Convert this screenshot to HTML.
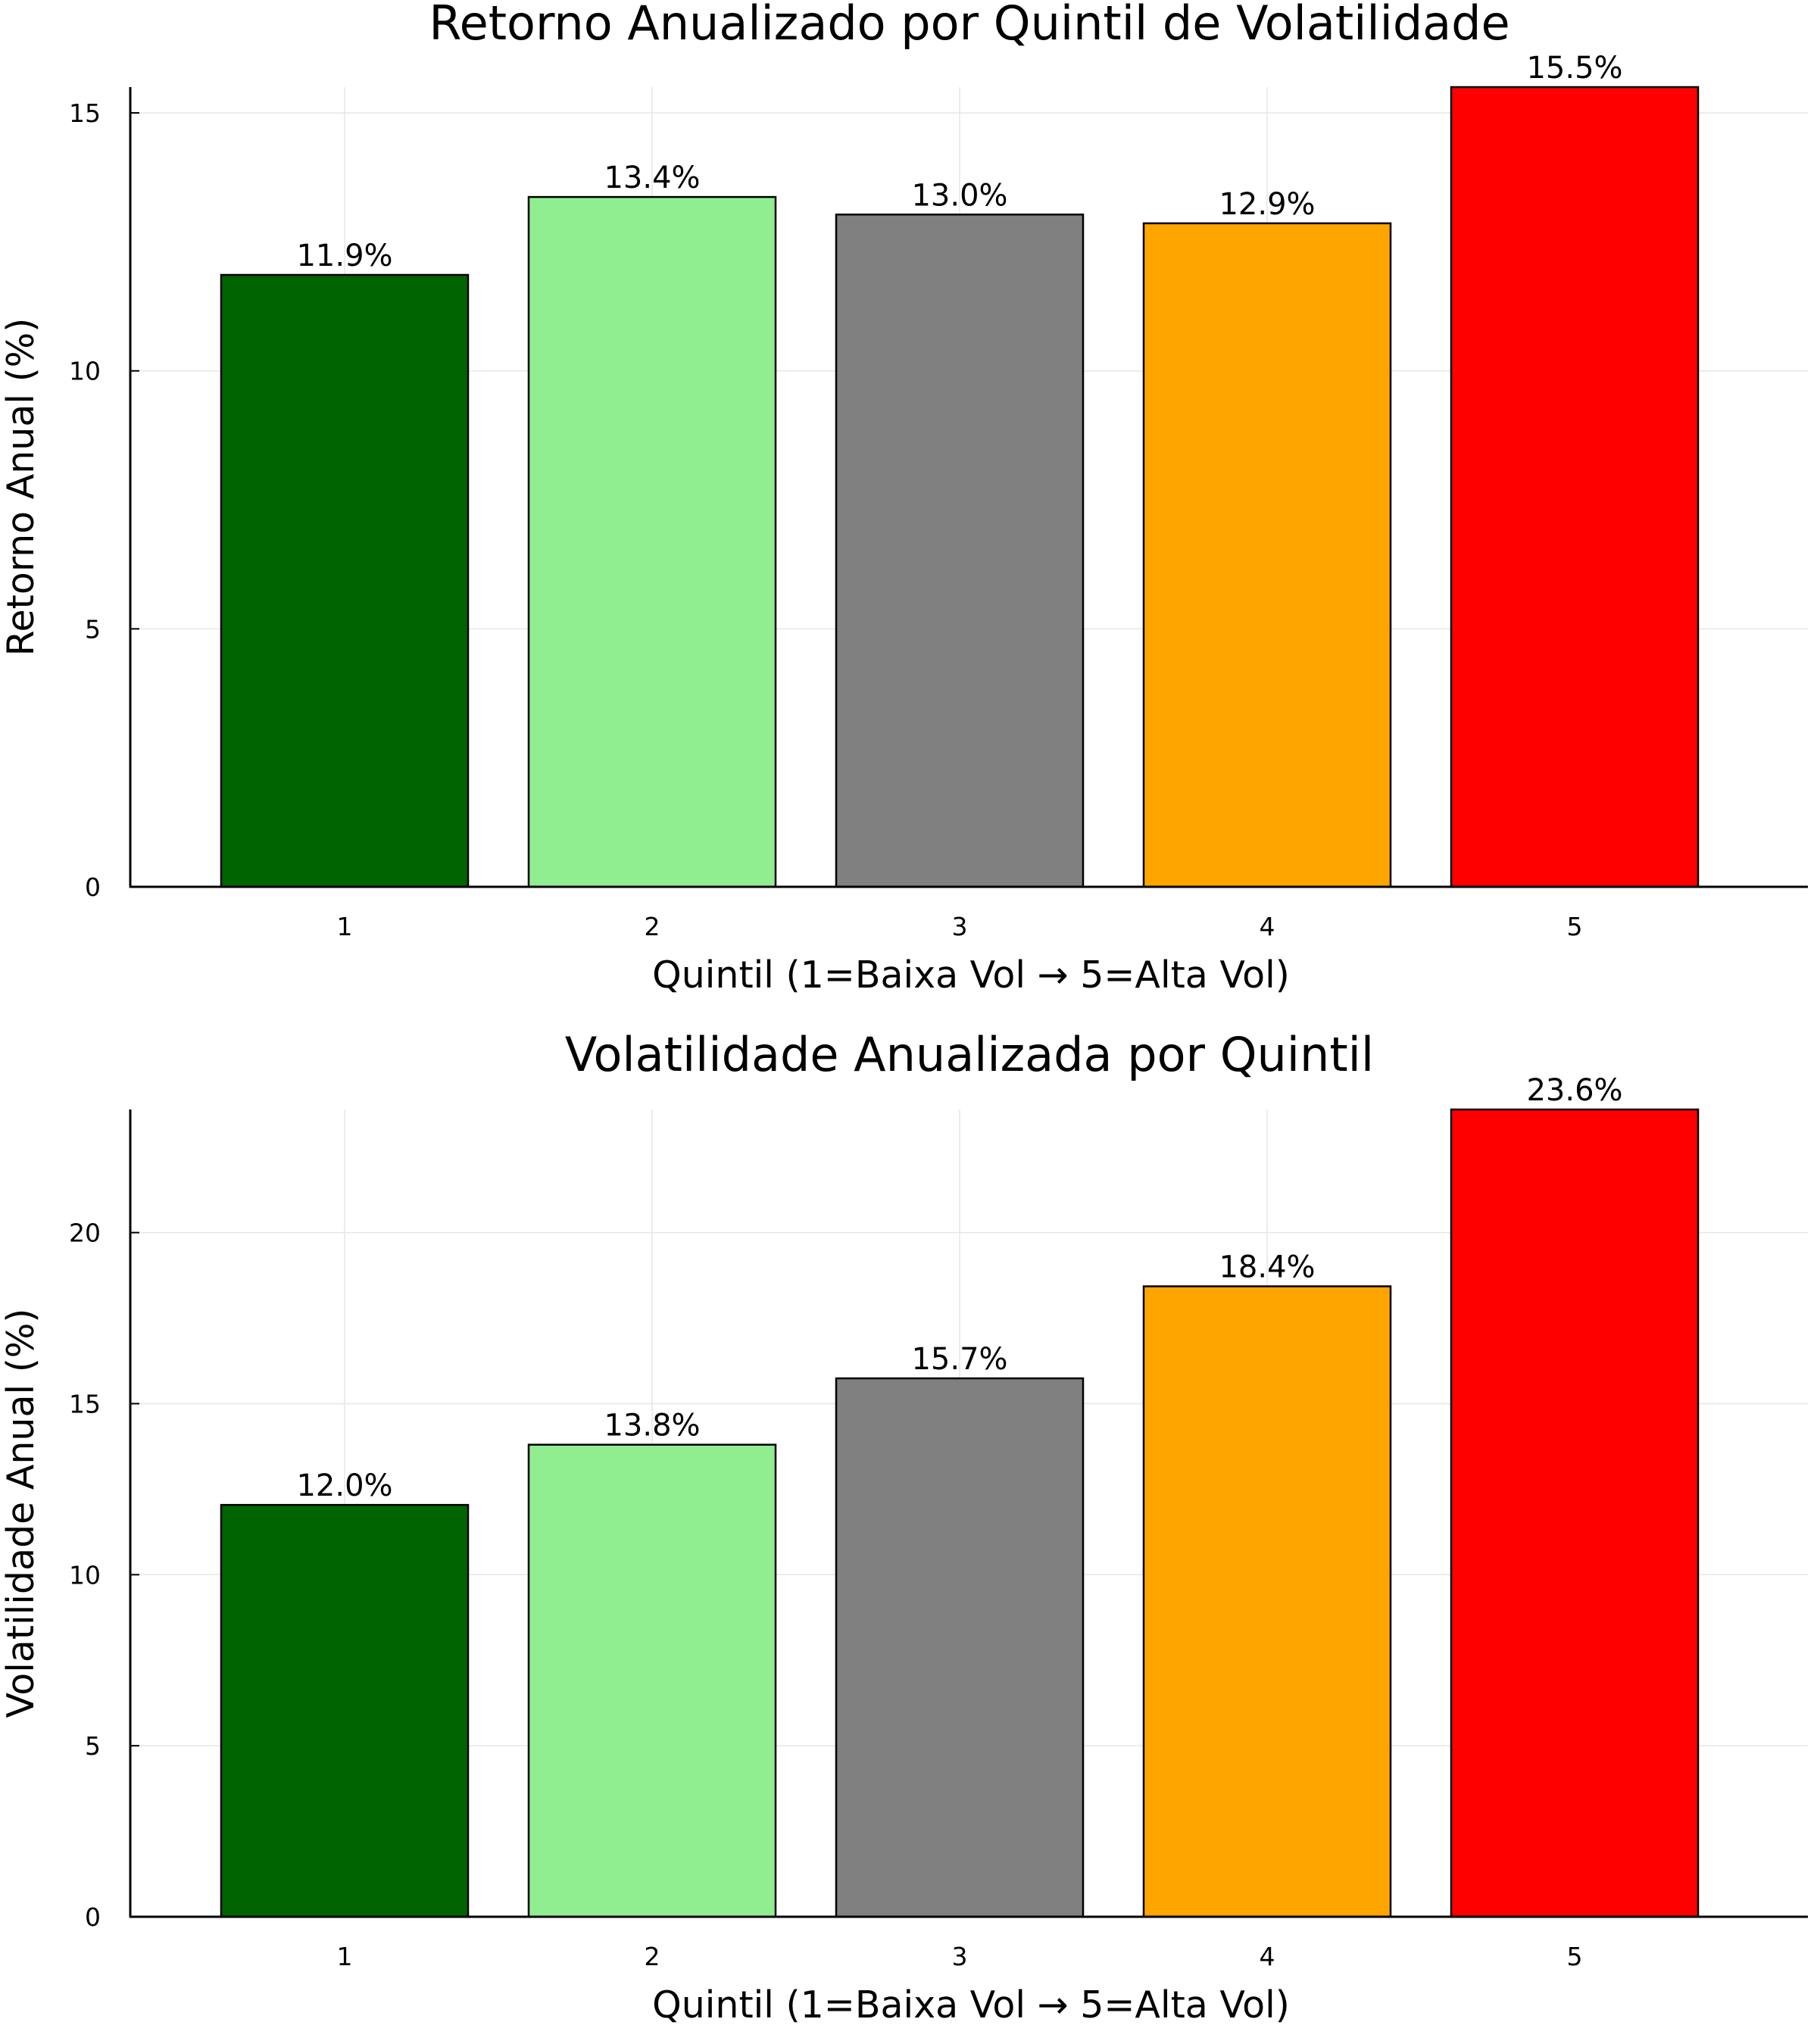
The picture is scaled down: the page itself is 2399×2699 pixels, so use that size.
<!DOCTYPE html>
<html><head><meta charset="utf-8"><style>
html,body{margin:0;padding:0;background:#fff;}
svg{display:block;font-family:"DejaVu Sans","Liberation Sans",sans-serif;}
</style></head><body>
<svg id="c" width="2399" height="2699" viewBox="0 0 2399 2699" xmlns="http://www.w3.org/2000/svg"></svg>
<script>
const categories = ["1","2","3","4","5"];
const colors = ["#006400","#90EE90","#808080","#FFA500","#FF0000"];
const returnValues = [11.86, 13.37, 13.03, 12.86, 15.5];
const returnLabels = ["11.9%","13.4%","13.0%","12.9%","15.5%"];
const returnTicks = [0,5,10,15];
const volValues = [12.04, 13.8, 15.74, 18.43, 23.6];
const volLabels = ["12.0%","13.8%","15.7%","18.4%","23.6%"];
const volTicks = [0,5,10,15,20];

const NS="http://www.w3.org/2000/svg";
const svg=document.getElementById('c');
function mk(tag,attrs,parent,text){const e=document.createElementNS(NS,tag);for(const k in attrs)e.setAttribute(k,attrs[k]);if(text!==undefined)e.textContent=text;(parent||svg).appendChild(e);return e;}

function panel(cfg){
  const g=mk('g',{});
  
  
  const left=172,right=2387,top=cfg.top,bottom=cfg.bottom;
  const y=v=>bottom-(v-0)/(cfg.ymax)*(bottom-top);
  const step=406, x0=455;
  const x=i=>x0+i*step;
  const bw=326;
  const t=mk('text',{x:1280,y:cfg.titleY,'text-anchor':'middle','font-size':62,fill:'#000'},g,cfg.title);
  
  
  cfg.ticks.forEach(v=>{
    const l=mk('line',{x1:left,x2:right,y1:y(v),y2:y(v),stroke:'#e6e6e6','stroke-width':1.5},g);
    
    
  });
  categories.forEach((c,i)=>{
    const l=mk('line',{x1:x(i),x2:x(i),y1:top,y2:bottom,stroke:'#e6e6e6','stroke-width':1.5},g);
    
    
  });
  cfg.values.forEach((v,i)=>{
    const r=mk('rect',{x:x(i)-bw/2,y:y(v),width:bw,height:bottom-y(v),fill:colors[i],stroke:'#000','stroke-width':2.5},g);
    
    
    const tl=mk('text',{x:x(i),y:y(v)-12,'text-anchor':'middle','font-size':40,fill:'#000'},g,cfg.labels[i]);
    
    
  });
  const ax=mk('line',{x1:left,x2:left,y1:top,y2:bottom+1,stroke:'#000','stroke-width':3},g);
  
  
  const bx=mk('line',{x1:left-1,x2:right,y1:bottom,y2:bottom,stroke:'#000','stroke-width':3},g);
  
  
  cfg.ticks.forEach(v=>{
    mk('line',{x1:left,x2:left+12,y1:y(v),y2:y(v),stroke:'#000','stroke-width':2},g);
    const tt=mk('text',{x:133,y:y(v)+12,'text-anchor':'end','font-size':33,fill:'#000'},g,String(v));
    
    
  });
  categories.forEach((c,i)=>{
    const tt=mk('text',{x:x(i),y:bottom+64,'text-anchor':'middle','font-size':33,fill:'#000'},g,c);
    
    
  });
  const xl=mk('text',{x:1282,y:bottom+133,'text-anchor':'middle','font-size':49,fill:'#000'},g,'Quintil (1=Baixa Vol → 5=Alta Vol)');
  
  
  const cy=(top+bottom)/2;
  const yl=mk('text',{x:44,y:cy,'text-anchor':'middle','font-size':49,fill:'#000',transform:`rotate(-90 44 ${cy})`},g,cfg.ylabel);
  
  
}
panel({name:'return-chart',top:115,bottom:1171,ymax:15.5,ticks:returnTicks,values:returnValues,labels:returnLabels,title:'Retorno Anualizado por Quintil de Volatilidade',titleY:52,ylabel:'Retorno Anual (%)'});
panel({name:'volatility-chart',top:1465,bottom:2531,ymax:23.6,ticks:volTicks,values:volValues,labels:volLabels,title:'Volatilidade Anualizada por Quintil',titleY:1414,ylabel:'Volatilidade Anual (%)'});
</script>
</body></html>
